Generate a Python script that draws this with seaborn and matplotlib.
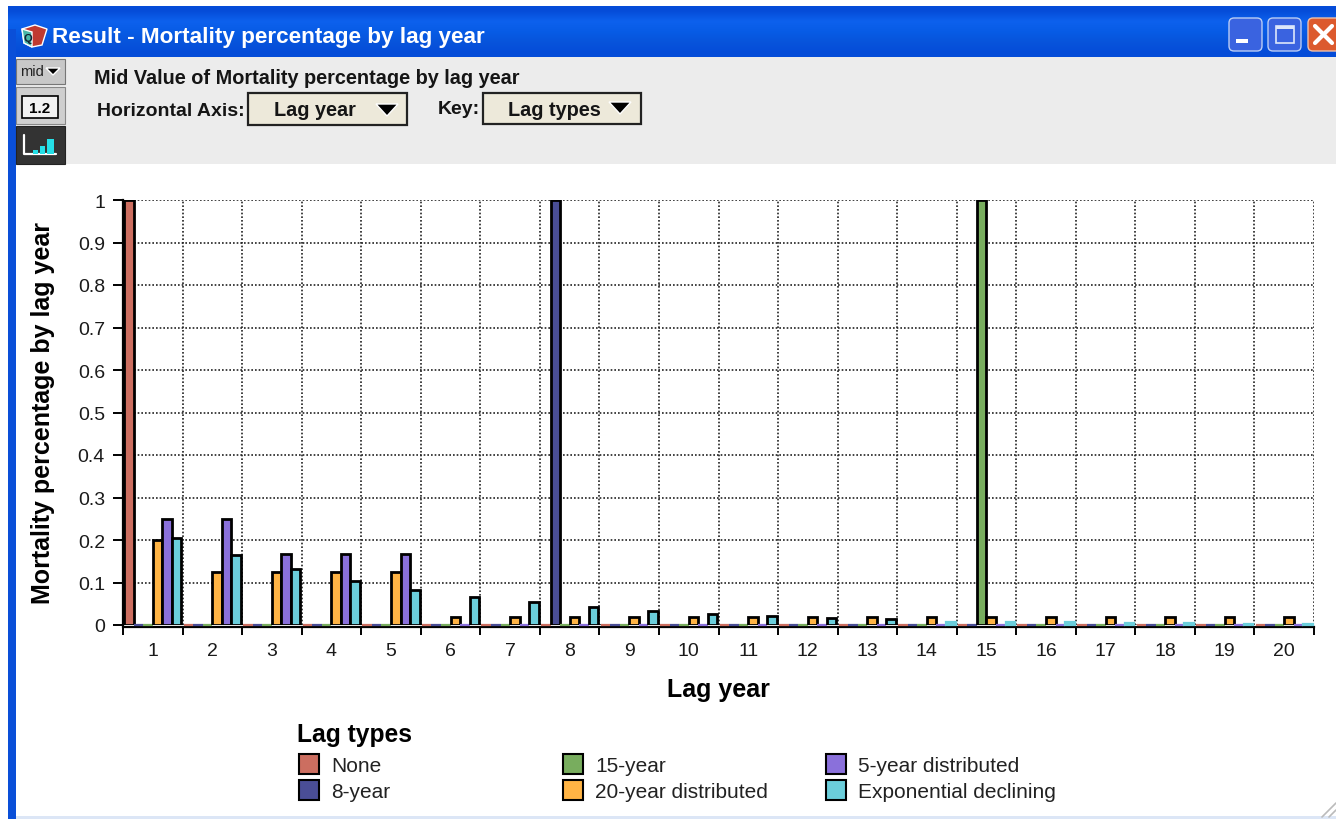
import numpy as np
import pandas as pd
import matplotlib
matplotlib.use("Agg")
import matplotlib.pyplot as plt
from matplotlib.patches import Rectangle, FancyBboxPatch, Polygon
from matplotlib.ticker import FixedLocator
import seaborn as sns

years = list(range(1, 21))
lag_types = ["None", "8-year", "15-year", "20-year distributed", "5-year distributed", "Exponential declining"]
none_vals = [1] + [0] * 19
eight_vals = [0] * 7 + [1] + [0] * 12
fifteen_vals = [0] * 14 + [1] + [0] * 5
twenty_vals = [0.2, 0.125, 0.125, 0.125, 0.125, 0.02, 0.02, 0.02, 0.02, 0.02,
               0.02, 0.02, 0.02, 0.02, 0.02, 0.02, 0.02, 0.02, 0.02, 0.02]
five_vals = [0.25, 0.25, 0.167, 0.167, 0.167] + [0] * 15
exp_vals = [0.205, 0.165, 0.131, 0.104, 0.083, 0.066, 0.053, 0.042, 0.033, 0.026,
            0.021, 0.017, 0.013, 0.008, 0.008, 0.006, 0.005, 0.004, 0.003, 0.003]
colors = ["#CC6E60", "#4A4E96", "#78AD5E", "#FFB445", "#8A70DB", "#6BCEDB"]
y_ticks = [0, 0.1, 0.2, 0.3, 0.4, 0.5, 0.6, 0.7, 0.8, 0.9, 1]
y_labels = ["0", "0.1", "0.2", "0.3", "0.4", "0.5", "0.6", "0.7", "0.8", "0.9", "1"]

sns.set_theme(style="white")
plt.rcParams["font.family"] = ["Liberation Sans", "DejaVu Sans"]

W, H = 1336, 820
fig = plt.figure(figsize=(W / 100, H / 100), dpi=100, facecolor="white")

# window chrome, in pixel coordinates
ch = fig.add_axes([0, 0, 1, 1], zorder=0)
ch.set_xlim(0, W); ch.set_ylim(H, 0); ch.axis("off")
def rect(x, y, w, h, fc, ec="none", lw=0, z=2):
    ch.add_patch(Rectangle((x, y), w, h, fc=fc, ec=ec, lw=lw, zorder=z))
def rrect(x, y, w, h, fc, ec="none", lw=0, z=3, r=5):
    ch.add_patch(FancyBboxPatch((x + r, y + r), w - 2 * r, h - 2 * r, boxstyle=f"round,pad={r}",
                                fc=fc, ec=ec, lw=lw, zorder=z))
grad = np.array([[0.02, 0.30, 0.85], [0.05, 0.38, 0.93], [0.03, 0.36, 0.90], [0.03, 0.33, 0.86], [0.02, 0.30, 0.85]])
ch.imshow(grad[:, None, :], extent=(8, W, 58, 7), aspect="auto", interpolation="bilinear", zorder=1)
ch.set_xlim(0, W); ch.set_ylim(H, 0)
rect(8, 30, 8, 790, "#0A4FD8")
rect(16, 58, W - 16, 107, "#ECECEC")
rect(16, 165, W - 16, 655, "white")
rect(16, 817, W - 16, 3, "#DCE6F6")

# title bar
ch.text(52, 38, "Result - Mortality percentage by lag year", color="white", fontsize=16.2,
        fontweight="bold", va="center", ha="left", zorder=5)
ch.add_patch(Polygon([[22, 30], [35, 26], [47, 30], [42, 46], [32, 48], [24, 44]], fc="#C03A30", zorder=4))
ch.add_patch(Polygon([[22, 30], [32, 33], [32, 48], [24, 44]], fc="#49B7A8", zorder=5))
ch.text(27.5, 39, "Q", color="#123", fontsize=8, fontweight="bold", ha="center", va="center", zorder=6)

# window buttons
rrect(1229, 19, 33, 33, "#3A63E0", ec="#B9CCF5", lw=1.0)
rect(1236, 40, 12, 4, "white", z=5)
rrect(1268, 19, 33, 33, "#3A63E0", ec="#B9CCF5", lw=1.0)
rect(1276, 27, 18, 17, "none", ec="#DDE6FA", lw=1.2, z=5)
rect(1276, 27, 18, 3, "#DDE6FA", z=5)
rrect(1308, 19, 40, 33, "#DC5A2E", ec="#F0C0A8", lw=1.0)
ch.plot([1315, 1332], [27, 44], color="white", lw=3, zorder=5)
ch.plot([1332, 1315], [27, 44], color="white", lw=3, zorder=5)

# side buttons
rect(16, 60, 49, 25, "#C8C8C8", ec="#777777", lw=0.8)
ch.text(20, 72, "mid", fontsize=10.5, va="center", color="#222222", zorder=5)
ch.add_patch(Polygon([[46, 69], [60, 69], [53, 76]], fc="black", zorder=5))
rect(16, 88, 49, 37, "#CFCFCF", ec="#888888", lw=0.8)
rect(22, 97, 36, 22, "#F2F2F2", ec="black", lw=1.2, z=4)
ch.text(40, 109, "1.2", fontsize=11, fontweight="bold", ha="center", va="center", zorder=5, color="black")
rect(16, 127, 49, 38, "#333333", ec="#222222", lw=0.8)
ch.plot([24, 24, 56], [136, 155, 155], color="white", lw=1.6, zorder=5)
rect(33, 151, 5, 4, "#25E0E8", z=5); rect(40, 147, 5, 8, "#25E0E8", z=5); rect(47, 140, 7, 15, "#25E0E8", z=5)

# toolbar text and selectors
ch.text(94, 78, "Mid Value of Mortality percentage by lag year", fontsize=14.3, fontweight="bold",
        va="center", color="#151515", zorder=5)
ch.text(97, 111, "Horizontal Axis:", fontsize=14, fontweight="bold", va="center", color="#151515", zorder=5)
ch.text(438, 109, "Key:", fontsize=14, fontweight="bold", va="center", color="#151515", zorder=5)
rect(248, 94, 159, 32, "#EDE9DA", ec="#222222", lw=1.6)
rect(483, 94, 158, 31, "#EDE9DA", ec="#222222", lw=1.6)
ch.text(274, 111, "Lag year", fontsize=14.3, fontweight="bold", va="center", color="#151515", zorder=5)
ch.text(508, 110, "Lag types", fontsize=14.3, fontweight="bold", va="center", color="#151515", zorder=5)
ch.add_patch(Polygon([[376, 105], [398, 105], [387, 117]], fc="black", zorder=5))
ch.add_patch(Polygon([[609, 103], [631, 103], [620, 115]], fc="black", zorder=5))
# resize grip
ch.plot([1322, 1336], [818, 804], color="#BBBBBB", lw=1.2, zorder=5)
ch.plot([1329, 1336], [818, 811], color="#BBBBBB", lw=1.2, zorder=5)

# chart
df = pd.DataFrame({"Lag year": years, "None": none_vals, "8-year": eight_vals, "15-year": fifteen_vals,
                   "20-year distributed": twenty_vals, "5-year distributed": five_vals,
                   "Exponential declining": exp_vals})
long = df.melt(id_vars="Lag year", var_name="Lag types", value_name="Mortality percentage by lag year")
L, R, T, B = 123, 1314, 201, 626
ax = fig.add_axes([L / W, 1 - B / H, (R - L) / W, (B - T) / H], zorder=2)
ax.patch.set_alpha(0)
sns.barplot(data=long, x="Lag year", y="Mortality percentage by lag year", hue="Lag types",
            hue_order=lag_types, palette=colors, saturation=1, width=0.96, dodge=True,
            edgecolor="black", linewidth=2.0, legend=False, ax=ax, zorder=3)
for bar in ax.patches:
    if bar.get_height() < 0.009:
        bar.set_edgecolor(bar.get_facecolor())
        bar.set_linewidth(1.6)
        bar.set_clip_on(False)
ax.set_xlim(-0.5, 19.5)
ax.set_ylim(0, 1)
ax.set_yticks(y_ticks, y_labels)
ax.set_xticks(range(20), [str(y) for y in years])
ax.xaxis.set_minor_locator(FixedLocator(np.arange(-0.5, 20, 1)))
ax.grid(False)
ax.grid(True, which="minor", axis="x", color="#222222", linestyle=(0, (1, 1.2)), linewidth=1.2, zorder=1)
ax.grid(True, which="major", axis="y", color="#222222", linestyle=(0, (1, 1.2)), linewidth=1.2, zorder=1)
ax.set_axisbelow(True)
ax.tick_params(axis="x", which="major", length=0, pad=11, labelsize=14, colors="#1a1a1a")
ax.tick_params(axis="x", which="minor", length=6, width=1.4, color="black", bottom=True)
ax.tick_params(axis="y", which="major", length=7, width=1.4, color="black", left=True, pad=6, labelsize=14, labelcolor="#1a1a1a")
for s in ["top", "right"]:
    ax.spines[s].set_visible(False)
ax.spines["bottom"].set_linewidth(1.6); ax.spines["bottom"].set_color("black")
ax.spines["bottom"].set_position(("outward", 1.5))
ax.spines["left"].set_linewidth(1.6); ax.spines["left"].set_color("black")
ax.set_xlabel("Lag year", fontsize=18, fontweight="bold", labelpad=13, color="black")
ax.set_ylabel("Mortality percentage by lag year", fontsize=18, fontweight="bold", labelpad=16, color="black")

# legend: three equal columns
groups = [[0, 1], [2, 3], [4, 5]]
xs = [295, 559, 822]
for g, x0 in zip(groups, xs):
    hs = [Rectangle((0, 0), 1, 1, fc=colors[i], ec="black", lw=1.5) for i in g]
    fig.legend(hs, [lag_types[i] for i in g], loc="upper left", bbox_to_anchor=(x0 / W, 1 - 751 / H),
               frameon=False, fontsize=15, handlelength=0.95, handleheight=1.08, handletextpad=0.6,
               labelspacing=0.24, borderpad=0.2, borderaxespad=0, labelcolor="#222222")
fig.text(297 / W, 1 - 735 / H, "Lag types", fontsize=17.7, fontweight="bold", va="center", color="black")

fig.savefig("out.png", dpi=100)
